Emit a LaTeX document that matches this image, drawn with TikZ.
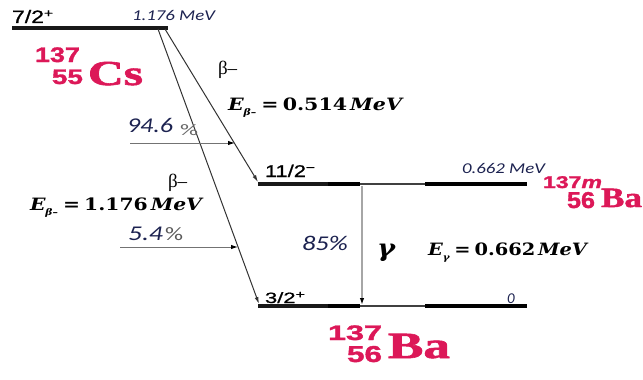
\documentclass[tikz,border=0pt]{standalone}
\usepackage{fontspec}
\usepackage{graphicx}
\usetikzlibrary{arrows.meta}
\setmainfont{Liberation Serif}
\newfontfamily\arialf[FakeBold=0.8]{Liberation Sans}
\newfontfamily\arialh[FakeBold=1.4]{Liberation Sans}
\newfontfamily\carl{Carlito}
\newfontfamily\dvs{DejaVu Serif}
\newfontfamily\heavyserif[FakeBold=1.6]{Liberation Serif}
\definecolor{nucpink}{HTML}{DC1858}
\definecolor{navy}{RGB}{28,34,80}
\newcommand\fw[2]{\resizebox{#1pt}{\height}{#2}}
\newcommand\fs[1]{\fontsize{#1}{#1}\selectfont}
\newcommand\elab[3]{{\dvs\bfseries\fs{#3}{\itshape E}\raisebox{-0.3em}{\fs{9}\itshape #1}\hspace{0.25em}=\hspace{0.2em}#2\hspace{0.15em}{\itshape MeV}}}
\begin{document}
\begin{tikzpicture}[x=1pt,y=-1pt,
  lbl/.style={inner sep=0pt,outer sep=0pt},
  lvl/.style={line width=3.2pt,black!90},
  lvlthick/.style={line width=3.6pt,black},
  lvlthin/.style={line width=2.4pt,black!75},
  decay/.style={line width=1pt,black!80,-{Latex[length=7pt,width=4pt]}},
  feed/.style={line width=1pt,black!55,-{Latex[length=7pt,width=4.5pt,black]}},
  gam/.style={line width=1.5pt,black!35,-{Latex[length=7pt,width=4.5pt,black]}},
  nucd/.style={lbl,text=nucpink,font=\arialh\bfseries},
  nucs/.style={lbl,text=nucpink,font=\heavyserif\bfseries},
  blu/.style={lbl,text=navy,font=\carl\itshape},
]
\useasboundingbox (0,0) rectangle (643,380);

% levels
\coordinate (T0) at (12,28);  \coordinate (T1) at (168,28);
\coordinate (M0) at (258,184); \coordinate (Ma) at (328,184); \coordinate (Mb) at (360,184); \coordinate (Mc) at (425,184); \coordinate (M1) at (527,184);
\coordinate (G0) at (258,306); \coordinate (Ga) at (328,306); \coordinate (Gb) at (360,306); \coordinate (Gc) at (425,306); \coordinate (G1) at (527,306);
\draw[lvl] (T0) -- (T1);
\draw[lvl] (M0) -- (Ma);
\draw[lvlthin] (Mb) -- (Mc);
\draw[lvlthick] (Ma) -- (Mb);
\draw[lvlthick] (Mc) -- (M1);
\draw[lvl] (G0) -- (Ga);
\draw[lvlthin] (Gb) -- (Gc);
\draw[lvlthick] (Ga) -- (Gb);
\draw[lvlthick] (Gc) -- (G1);

% decay branches
\coordinate (TA) at (158,29); \coordinate (TB) at (165,29);
\coordinate (MA) at (258,182); \coordinate (GA) at (259,304);
\draw[decay] (TB) -- (MA);
\draw[decay] (TA) -- (GA);

% feeding arrows
\coordinate (f1s) at (130,143); \coordinate (f1e) at (235,143);
\coordinate (f2s) at (120,247); \coordinate (f2e) at (238,247);
\draw[feed] (f1s) -- (f1e);
\draw[feed] (f2s) -- (f2e);

% gamma
\coordinate (gs) at (362,186); \coordinate (ge) at (362,305);
\draw[gam] (gs) -- (ge);

% spin labels
\node[lbl,anchor=base west] (s72) at (12,23) {\fw{41}{\arialf\fs{18}7/2\raisebox{0.32em}{\fs{12}+}}};
\node[lbl,anchor=base west] (s112) at (265,177) {\fw{50}{\arialf\fs{17}11/2\raisebox{0.32em}{\fs{12}\textminus}}};
\node[lbl,anchor=base west] (s32) at (265,303) {\fw{40}{\arialf\fs{15}3/2\raisebox{0.32em}{\fs{11}+}}};

% energy labels
\node[blu,anchor=base west] (e1) at (132,20) {\fw{83}{\fs{15}1.176 MeV}};
\node[blu,anchor=base west] (e2) at (462,173) {\fw{83}{\fs{15}0.662 MeV}};
\node[blu,anchor=base west] (e3) at (507,303) {\fs{15}0};

% percentages
\node[blu,anchor=base west] (p1) at (127,132) {\fw{46}{\fs{21}94.6}};
\node[lbl,anchor=base west,text=black!60,font=\carl] (p1b) at (180,135) {\fw{18}{\fs{16}\%}};
\node[blu,anchor=base west] (p2) at (128,240) {\fw{35}{\fs{21}5.4}};
\node[lbl,anchor=base west,text=black!65,font=\carl] (p2b) at (165,240) {\fw{18}{\fs{19}\%}};
\node[blu,anchor=base west] (p3) at (302,250) {\fw{46}{\fs{21}85\%}};

% beta labels
\node[lbl,anchor=base west] (b1) at (218,74) {\fs{19}β–};
\node[lbl,anchor=base west] (b2) at (168,187) {\fs{19}β–};

% energies
\node[lbl,anchor=base west] (E1) at (228,110) {\fw{174}{\elab{β–}{0.514}{17}}};
\node[lbl,anchor=base west] (E2) at (30,210) {\fw{172}{\elab{β–}{1.176}{17}}};
\node[lbl,anchor=base west] (E3) at (428,255) {\fw{159}{\elab{γ}{0.662}{17}}};
\node[lbl,anchor=base west] (gl) at (377,256) {\fw{18}{\dvs\bfseries\itshape\fs{24}γ}};

% nuclides
\node[nucd,anchor=base east] (cs1) at (80,62) {\fw{45}{\fs{21}137}};
\node[nucd,anchor=base east] (cs2) at (83,84) {\fw{31}{\fs{21}55}};
\node[nucs,anchor=base west] (cs3) at (88,85) {\fw{55}{\fs{35}Cs}};

\node[nucd,anchor=base east] (ba1) at (382,340) {\fw{54}{\fs{21}137}};
\node[nucd,anchor=base east] (ba2) at (382,362) {\fw{35}{\fs{23}56}};
\node[nucs,anchor=base west] (ba3) at (388,358) {\fw{62}{\fs{37}Ba}};

\node[nucd,anchor=base west] (bm1) at (543,188) {\fw{59}{\fs{17}137{\itshape m}}};
\node[nucd,anchor=base west] (bm2) at (567,208) {\fw{28}{\fs{23}56}};
\node[nucs,anchor=base west] (bm3) at (601,207) {\fw{41}{\fs{28}Ba}};
\end{tikzpicture}
\end{document}
